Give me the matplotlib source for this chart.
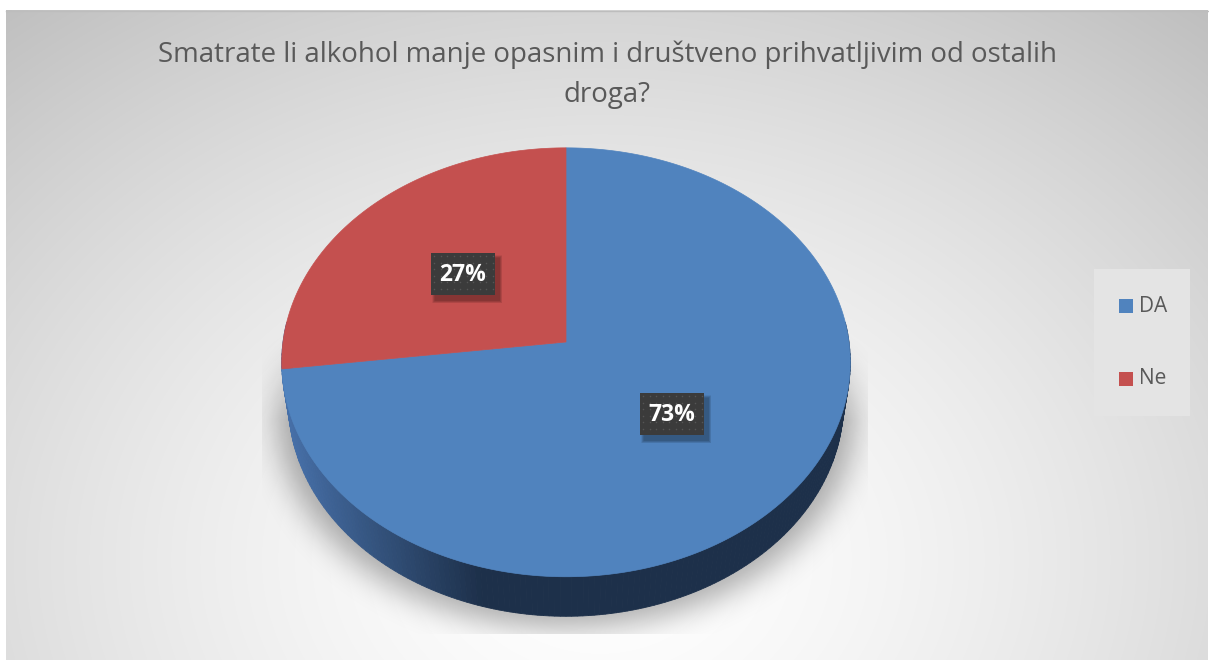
import numpy as np
import matplotlib
matplotlib.use('Agg')
from matplotlib import pyplot as plt
from matplotlib.patches import Polygon, Rectangle
from matplotlib.path import Path

title_lines = ['Smatrate li alkohol manje opasnim i društveno prihvatljivim od ostalih', 'droga?']
labels = ['DA', 'Ne']
values = [73, 27]
colors = ['#5083be', '#c4504f']

W, H = 1209, 660
fig = plt.figure(figsize=(W / 100, H / 100), dpi=100)
ax = fig.add_axes([0, 0, 1, 1])
ax.set_xlim(0, W)
ax.set_ylim(H, 0)
ax.axis('off')

# chart area with radial grey gradient
x0, y0, x1, y1 = 6, 10, 1208, 660
yy, xx = np.mgrid[y0:y1, x0:x1] + 0.5
r = np.sqrt(((xx - 600) / 800.0) ** 2 + ((yy - 560) / 620.0) ** 2)
g = np.clip(1.0 - 0.2 * r ** 1.5, 0.75, 1.0)
ax.imshow(np.dstack([g, g, g]), extent=(x0, x1, y1, y0), zorder=0, interpolation='bilinear')
ax.plot([x0, x1], [y0 + 0.5, y0 + 0.5], color='#bdbdbd', lw=1, zorder=1)

# 3D pie with a simple perspective camera (pixel coordinates, y down)
cx, cy = 566, 342
scale = 283.0
phi = np.arcsin(0.751)
dist = 6.974
thick = 0.2275


def proj(theta, z=0.0):
    theta = np.asarray(theta, dtype=float)
    X, Y = np.cos(theta), np.sin(theta)
    yc = Y * np.sin(phi) + z * np.cos(phi)
    zc = dist + Y * np.cos(phi) - z * np.sin(phi)
    return cx + scale * X * dist / zc, cy - scale * yc * dist / zc


# soft shadow: blurred bottom silhouette, clipped to a box
tt = np.linspace(0, 2 * np.pi, 400)
bx, by = proj(tt, -thick)
sx0, sx1, sy0, sy1 = 230, 900, 300, 634
sy, sx = np.mgrid[sy0:sy1, sx0:sx1] + 0.5
pts = np.column_stack([sx.ravel(), sy.ravel()])
sil = Path(np.column_stack([cx + (bx - cx) * 1.04, by + 12]))
mask = sil.contains_points(pts).reshape(sx.shape).astype(float)
k = np.exp(-0.5 * (np.arange(-45, 46) / 15.0) ** 2)
k /= k.sum()
mask = np.apply_along_axis(lambda m: np.convolve(m, k, mode='same'), 0, mask)
mask = np.apply_along_axis(lambda m: np.convolve(m, k, mode='same'), 1, mask)
clip = ((sx > 262) & (sx < 868)).astype(float) * np.clip((sy - 330) / 90.0, 0, 1)
shadow = np.zeros(sx.shape + (4,))
shadow[..., 3] = 0.32 * mask * clip
ax.imshow(shadow, extent=(sx0, sx1, sy1, sy0), zorder=1, interpolation='bilinear')

# side wall (front half)
n = 180
ts = np.linspace(np.pi * 0.97, 2 * np.pi * 1.015, n + 1)
c_left = np.array([0x46, 0x6f, 0xa7]) / 255
c_dark = np.array([0x1d, 0x30, 0x4a]) / 255
for i in range(n):
    ua, va = proj(ts[i:i + 2], 0.0)
    ub, vb = proj(ts[i:i + 2], -thick)
    f = np.clip((ua.mean() - 290) / 190.0, 0, 1)
    col = c_left * (1 - f) + c_dark * f
    poly = [(ua[0], va[0]), (ua[1], va[1]), (ub[1], vb[1]), (ub[0], vb[0])]
    ax.add_patch(Polygon(poly, closed=True, facecolor=col, edgecolor=col, lw=0.6, zorder=2))

# top faces, clockwise from 12 o'clock
total = float(sum(values))
start = np.pi / 2
for v, c in zip(values, colors):
    sweep = 2 * np.pi * v / total
    t = np.linspace(start, start - sweep, 240)
    ex, ey = proj(t, 0.0)
    poly = np.column_stack([np.r_[cx, ex], np.r_[cy, ey]])
    ax.add_patch(Polygon(poly, closed=True, facecolor=c, edgecolor=c, lw=0.5, zorder=3))
    start -= sweep

# data labels
label_pos = [(672, 414), (463, 274)]
for v, (lx, ly) in zip(values, label_pos):
    bw, bh = 64, 42
    for j in range(6):
        grow = 6 - j
        ax.add_patch(Rectangle((lx - bw / 2 + 4 - grow / 2, ly - bh / 2 + 5 - grow / 2),
                               bw + grow, bh + grow, facecolor='black', alpha=0.06, lw=0, zorder=4))
    ax.add_patch(Rectangle((lx - bw / 2, ly - bh / 2), bw, bh, facecolor='#3b3b3b', lw=0, zorder=5))
    gx, gy = np.meshgrid(np.arange(lx - bw / 2 + 3, lx + bw / 2, 6.5),
                         np.arange(ly - bh / 2 + 3, ly + bh / 2, 6.5))
    ax.scatter(gx.ravel(), gy.ravel(), s=1.2, color='#555555', lw=0, zorder=5.5)
    ax.text(lx, ly + 1, f'{v}%', color='white', fontsize=16.5, fontweight='bold',
            family='Open Sans', ha='center', va='center', zorder=6)

# title
for i, line in enumerate(title_lines):
    ax.text(607, 55 + 40 * i, line, ha='center', va='center', fontsize=19.9, color='#595959',
            family='Open Sans', zorder=6)

# legend
ax.add_patch(Rectangle((1094, 269), 96, 147, facecolor='#e4e4e4', edgecolor='none', zorder=4))
for i, (lab, c) in enumerate(zip(labels, colors)):
    ly = 306 + i * 73
    ax.add_patch(Rectangle((1119, ly - 7), 14, 14, facecolor=c, lw=0, zorder=5))
    ax.text(1139, ly, lab, fontsize=15, color='#595959', family='Open Sans',
            ha='left', va='center', zorder=6)

fig.savefig('out.png', dpi=100)
